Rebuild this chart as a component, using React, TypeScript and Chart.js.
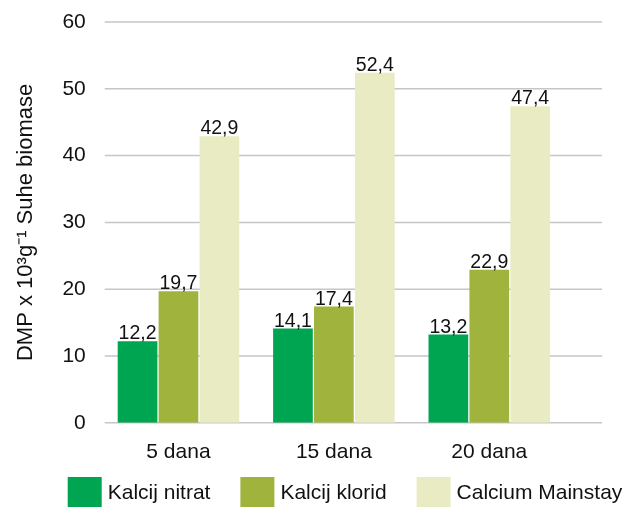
import { useEffect, useRef } from 'react';
import { Chart, registerables } from 'chart.js';

Chart.register(...registerables);

const categories = ['5 dana', '15 dana', '20 dana'];
const seriesNames = ['Kalcij nitrat', 'Kalcij klorid', 'Calcium Mainstay'];
const kalcijNitrat = [12.2, 14.1, 13.2];
const kalcijKlorid = [19.7, 17.4, 22.9];
const calciumMainstay = [42.9, 52.4, 47.4];
const seriesColors = ['#00a551', '#a0b33c', '#e9ebc3'];
const yMin = 0;
const yMax = 60;
const yStep = 10;
const yTitle = 'DMP x 10³g⁻¹ Suhe biomase';

const FONT = '"Liberation Sans", Arial, Helvetica, sans-serif';
const TEXT = '#111111';

const gridPlugin = {
  id: 'extGrid',
  beforeDatasetsDraw(chart: any) {
    const { ctx, chartArea, scales } = chart;
    const y = scales.y;
    ctx.save();
    ctx.strokeStyle = '#c6c6c6';
    ctx.lineWidth = 1.5;
    y.ticks.forEach((t: any) => {
      const py = y.getPixelForValue(t.value);
      ctx.beginPath();
      ctx.moveTo(chartArea.left + 4, py);
      ctx.lineTo(chartArea.right + 35, py);
      ctx.stroke();
    });
    ctx.restore();
  },
};

const labelPlugin = {
  id: 'valueLabels',
  afterDatasetsDraw(chart: any) {
    const { ctx } = chart;
    ctx.save();
    ctx.font = `19.5px ${FONT}`;
    ctx.fillStyle = TEXT;
    ctx.textAlign = 'center';
    ctx.textBaseline = 'alphabetic';
    chart.data.datasets.forEach((ds: any, i: number) => {
      const meta = chart.getDatasetMeta(i);
      meta.data.forEach((bar: any, j: number) => {
        const v = ds.data[j];
        ctx.fillText(String(v).replace('.', ','), bar.x, bar.y - 2);
      });
    });
    ctx.restore();
  },
};

const legendPlugin = {
  id: 'customLegend',
  afterDraw(chart: any) {
    const { ctx } = chart;
    ctx.save();
    ctx.font = `21px ${FONT}`;
    const boxW = 34;
    const boxH = 30;
    const gap = 6;
    const itemGap = 30;
    const items = chart.data.datasets.map((ds: any) => ({
      text: ds.label,
      color: ds.backgroundColor,
      w: boxW + gap + ctx.measureText(ds.label).width,
    }));
    const total =
      items.reduce((s: number, it: any) => s + it.w, 0) + itemGap * (items.length - 1);
    let x = 345 - total / 2;
    const top = chart.height - 31;
    items.forEach((it: any) => {
      ctx.fillStyle = it.color;
      ctx.fillRect(x, top, boxW, boxH);
      ctx.fillStyle = TEXT;
      ctx.textAlign = 'left';
      ctx.textBaseline = 'middle';
      ctx.fillText(it.text, x + boxW + gap, top + boxH / 2 + 1);
      x += it.w + itemGap;
    });
    ctx.restore();
  },
};

export default function App() {
  const ref = useRef<HTMLCanvasElement | null>(null);

  useEffect(() => {
    if (!ref.current) return;
    const seriesValues = [kalcijNitrat, kalcijKlorid, calciumMainstay];
    const chart = new Chart(ref.current, {
      type: 'bar',
      data: {
        labels: categories,
        datasets: seriesNames.map((name, i) => ({
          label: name,
          data: seriesValues[i],
          backgroundColor: seriesColors[i],
          borderWidth: 0,
          categoryPercentage: 0.79,
          barPercentage: 0.97,
        })),
      },
      options: {
        animation: false,
        responsive: true,
        maintainAspectRatio: false,
        layout: { padding: { left: 0, right: 58, top: 22, bottom: 26 } },
        plugins: {
          legend: { display: false },
          tooltip: { enabled: false },
          title: { display: false },
        },
        scales: {
          x: {
            grid: { display: false, drawTicks: false },
            border: { display: false },
            ticks: { color: TEXT, font: { family: FONT, size: 21 }, padding: 17 },
          },
          y: {
            min: yMin,
            max: yMax,
            grid: { display: false, drawTicks: false },
            border: { display: false },
            afterFit: (scale: any) => {
              scale.paddingTop = 10;
              scale.paddingBottom = 10;
            },
            ticks: {
              stepSize: yStep,
              color: TEXT,
              font: { family: FONT, size: 21 },
              padding: 15,
            },
            title: {
              display: true,
              text: yTitle,
              color: TEXT,
              font: { family: FONT, size: 22 },
              padding: { top: 13, bottom: 8 },
            },
          },
        },
      },
      plugins: [gridPlugin, labelPlugin, legendPlugin],
    });
    return () => chart.destroy();
  }, []);

  return (
    <div style={{ position: 'absolute', left: 0, top: 0, width: 625, height: 508, background: '#fff' }}>
      <canvas ref={ref} />
    </div>
  );
}
